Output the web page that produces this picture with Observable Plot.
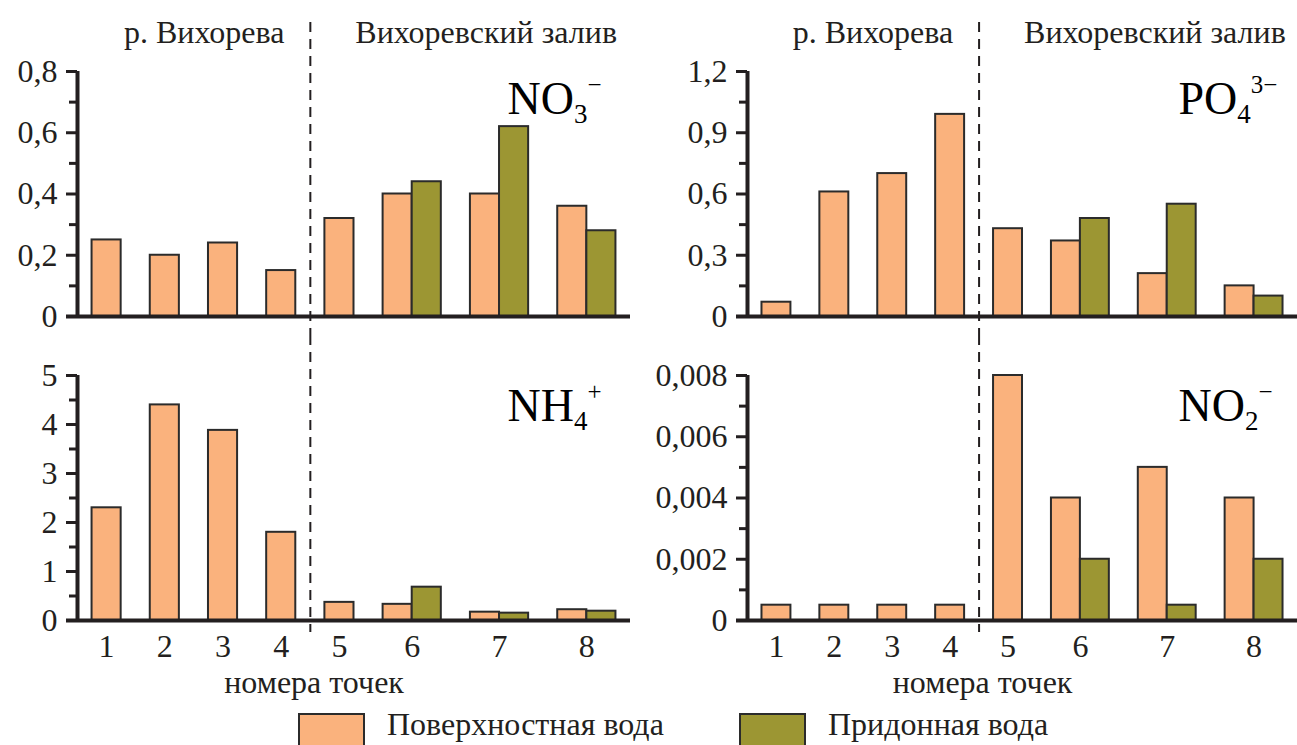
<!DOCTYPE html>
<html>
<head>
<meta charset="utf-8">
<script src="https://cdn.jsdelivr.net/npm/d3@7"></script>
<script src="https://cdn.jsdelivr.net/npm/@observablehq/plot@0.6"></script>
<style>
  html, body { margin: 0; padding: 0; background: #fff; overflow: hidden; }
  #chart { position: relative; width: 1297px; height: 745px; overflow: hidden;
           font-family: "Liberation Serif", Tinos, "DejaVu Serif", "Noto Serif", serif; color: #231f20; }
  .panel { position: absolute; }
  .swatch { position: absolute; top: 713px; width: 63px; height: 40px; border: 2px solid #2b2b2b; }
  .legend-text { position: absolute; top: 706px; line-height: 36px; font-size: 32px; white-space: nowrap; }
</style>
</head>
<body>
<div id="chart"></div>
<script>
// Sampling stations and the two water bodies they belong to
const stations = ["1", "2", "3", "4", "5", "6", "7", "8"];
const zoneNames = ["р. Вихорева", "Вихоревский залив"];
const stationZone = [0, 0, 0, 0, 1, 1, 1, 1];
const seriesNames = ["Поверхностная вода", "Придонная вода"];
const xLabel = "номера точек";

// Concentrations, surface and bottom water (null = not sampled)
const no3Surface = [0.25, 0.20, 0.24, 0.15, 0.32, 0.40, 0.40, 0.36];
const no3Bottom  = [null, null, null, null, null, 0.44, 0.62, 0.28];
const po4Surface = [0.07, 0.61, 0.70, 0.99, 0.43, 0.37, 0.21, 0.15];
const po4Bottom  = [null, null, null, null, null, 0.48, 0.55, 0.10];
const nh4Surface = [2.3, 4.4, 3.88, 1.8, 0.37, 0.33, 0.17, 0.22];
const nh4Bottom  = [null, null, null, null, null, 0.68, 0.15, 0.19];
const no2Surface = [0.0005, 0.0005, 0.0005, 0.0005, 0.008, 0.004, 0.005, 0.004];
const no2Bottom  = [null, null, null, null, null, 0.002, 0.0005, 0.002];

// Y tick values (major with labels, minor unlabeled)
const no3Ticks = [0, 0.2, 0.4, 0.6, 0.8];
const no3Minor = [0.1, 0.3, 0.5, 0.7];
const po4Ticks = [0, 0.3, 0.6, 0.9, 1.2];
const po4Minor = [0.15, 0.45, 0.75, 1.05];
const nh4Ticks = [0, 1, 2, 3, 4, 5];
const nh4Minor = [0.5, 1.5, 2.5, 3.5, 4.5];
const no2Ticks = [0, 0.002, 0.004, 0.006, 0.008];
const no2Minor = [0.001, 0.003, 0.005, 0.007];

// Ion labels: base, subscript, superscript
const ionNO3 = ["NO", "3", "−"];
const ionPO4 = ["PO", "4", "3−"];
const ionNH4 = ["NH", "4", "+"];
const ionNO2 = ["NO", "2", "−"];

const COLORS = ["#fab27d", "#9c9633"];
const INK = "#231f20";
const EDGE = "#2b2b2b";
const FONT = '"Liberation Serif", Tinos, "DejaVu Serif", "Noto Serif", serif';
const FS = 32;

// Each station gets a slot one bar wider than the bars it holds
const allBottom = [no3Bottom, po4Bottom, nh4Bottom, no2Bottom];
let cursor = 0;
const slots = stations.map((s, i) => {
  const bars = allBottom.some(b => b[i] != null) ? 2 : 1;
  const slot = {station: s, start: cursor, bars, center: cursor + (bars + 1) / 2};
  cursor += bars + 1;
  return slot;
});
const xMax = cursor;
const boundary = slots[stationZone.indexOf(1)].start;

function buildRows(surface, bottom) {
  const rows = [];
  slots.forEach((slot, i) => {
    [surface, bottom].forEach((series, k) => {
      const v = series[i];
      if (v == null) return;
      rows.push({series: seriesNames[k], value: v, x1: slot.start + 0.5 + k, x2: slot.start + 1.5 + k});
    });
  });
  return rows;
}

const fmt = d => String(d).replace(".", ",");

const rowsLayout = [
  {top: 0,   height: 335, marginTop: 71, marginBottom: 19, ionDy: 42, dashTop: -49, dashBottom: -19},
  {top: 335, height: 370, marginTop: 40, marginBottom: 85, ionDy: 45, dashTop: -40, dashBottom: -12}
];
const colsLayout = [
  {left: 0,   width: 648, marginLeft: 77, marginRight: 18, ionDx: 430},
  {left: 648, width: 649, marginLeft: 99, marginRight: 0,  ionDx: 431}
];

const panels = [
  {surface: no3Surface, bottom: no3Bottom, ticks: no3Ticks, minor: no3Minor, ion: ionNO3, row: 0, col: 0},
  {surface: po4Surface, bottom: po4Bottom, ticks: po4Ticks, minor: po4Minor, ion: ionPO4, row: 0, col: 1},
  {surface: nh4Surface, bottom: nh4Bottom, ticks: nh4Ticks, minor: nh4Minor, ion: ionNH4, row: 1, col: 0},
  {surface: no2Surface, bottom: no2Bottom, ticks: no2Ticks, minor: no2Minor, ion: ionNO2, row: 1, col: 1}
];

const chart = document.getElementById("chart");
const NS = "http://www.w3.org/2000/svg";

for (const p of panels) {
  const R = rowsLayout[p.row], C = colsLayout[p.col];
  const rows = buildRows(p.surface, p.bottom);
  const yMax = p.ticks[p.ticks.length - 1];
  const ionText = p.ion.join("");

  const marks = [
    // zone divider
    Plot.ruleX([boundary], {stroke: INK, strokeWidth: 2, strokeDasharray: "10,7",
      insetTop: R.dashTop, insetBottom: R.dashBottom}),
    // bars
    Plot.rectY(rows, {x1: "x1", x2: "x2", y: "value", fill: "series", stroke: EDGE, strokeWidth: 2}),
    // y axis: minor + major ticks
    Plot.axisY(p.minor, {tickSize: 8, strokeWidth: 3, stroke: INK, tickFormat: () => ""}),
    Plot.axisY(p.ticks, {tickSize: 11, tickPadding: 9, strokeWidth: 3, stroke: INK, tickFormat: fmt,
      fontSize: FS, fontFamily: FONT}),
    // axis lines
    Plot.ruleX([0], {stroke: INK, strokeWidth: 4}),
    Plot.ruleY([0], {stroke: INK, strokeWidth: 4, insetLeft: -11}),
    // ion label
    Plot.text([ionText], {frameAnchor: "top-left", dx: C.ionDx, dy: R.ionDy, lineAnchor: "bottom",
      textAnchor: "start", fontSize: 46, fontFamily: FONT, fill: "black"})
  ];

  if (p.row === 0) {
    marks.push(
      Plot.text([zoneNames[0]], {x: () => boundary, frameAnchor: "top", dx: -26, dy: -29, lineAnchor: "bottom",
        textAnchor: "end", fontSize: FS, fontFamily: FONT, fill: INK}),
      Plot.text([zoneNames[1]], {x: () => boundary, frameAnchor: "top", dx: 45, dy: -29, lineAnchor: "bottom",
        textAnchor: "start", fontSize: FS, fontFamily: FONT, fill: INK})
    );
  } else {
    const labelOf = new Map(slots.map(s => [s.center, s.station]));
    marks.push(
      Plot.axisX(slots.map(s => s.center), {tickSize: 0, tickPadding: 14, tickFormat: d => labelOf.get(d),
        fontSize: FS, fontFamily: FONT}),
      Plot.text([xLabel], {frameAnchor: "bottom", dx: -40, dy: 72, lineAnchor: "bottom",
        fontSize: FS, fontFamily: FONT, fill: INK})
    );
  }

  const svg = Plot.plot({
    width: C.width,
    height: R.height,
    marginLeft: C.marginLeft,
    marginRight: C.marginRight,
    marginTop: R.marginTop,
    marginBottom: R.marginBottom,
    style: {fontFamily: FONT, fontSize: FS + "px", color: INK, background: "white", overflow: "visible"},
    x: {type: "linear", domain: [0, xMax], axis: null, label: null},
    y: {domain: [0, yMax], axis: null, label: null},
    color: {domain: seriesNames, range: COLORS},
    marks
  });

  // subscript / superscript for the ion formula
  const t = Array.from(svg.querySelectorAll("text")).find(el => el.textContent === ionText);
  if (t) {
    t.textContent = "";
    const base = document.createElementNS(NS, "tspan");
    base.textContent = p.ion[0];
    const sub = document.createElementNS(NS, "tspan");
    sub.textContent = p.ion[1];
    sub.setAttribute("font-size", "27");
    sub.setAttribute("dy", "9");
    const sup = document.createElementNS(NS, "tspan");
    sup.textContent = p.ion[2];
    sup.setAttribute("font-size", "25");
    sup.setAttribute("dy", "-30");
    t.append(base, sub, sup);
  }

  svg.classList.add("panel");
  svg.style.position = "absolute";
  svg.style.left = C.left + "px";
  svg.style.top = R.top + "px";
  chart.appendChild(svg);
}

// legend
const swatchLeft = [298, 739];
const textLeft = [387, 828];
seriesNames.forEach((name, i) => {
  const sw = document.createElement("div");
  sw.className = "swatch";
  sw.style.left = swatchLeft[i] + "px";
  sw.style.background = COLORS[i];
  const tx = document.createElement("div");
  tx.className = "legend-text";
  tx.style.left = textLeft[i] + "px";
  tx.textContent = name;
  chart.append(sw, tx);
});
</script>
</body>
</html>
